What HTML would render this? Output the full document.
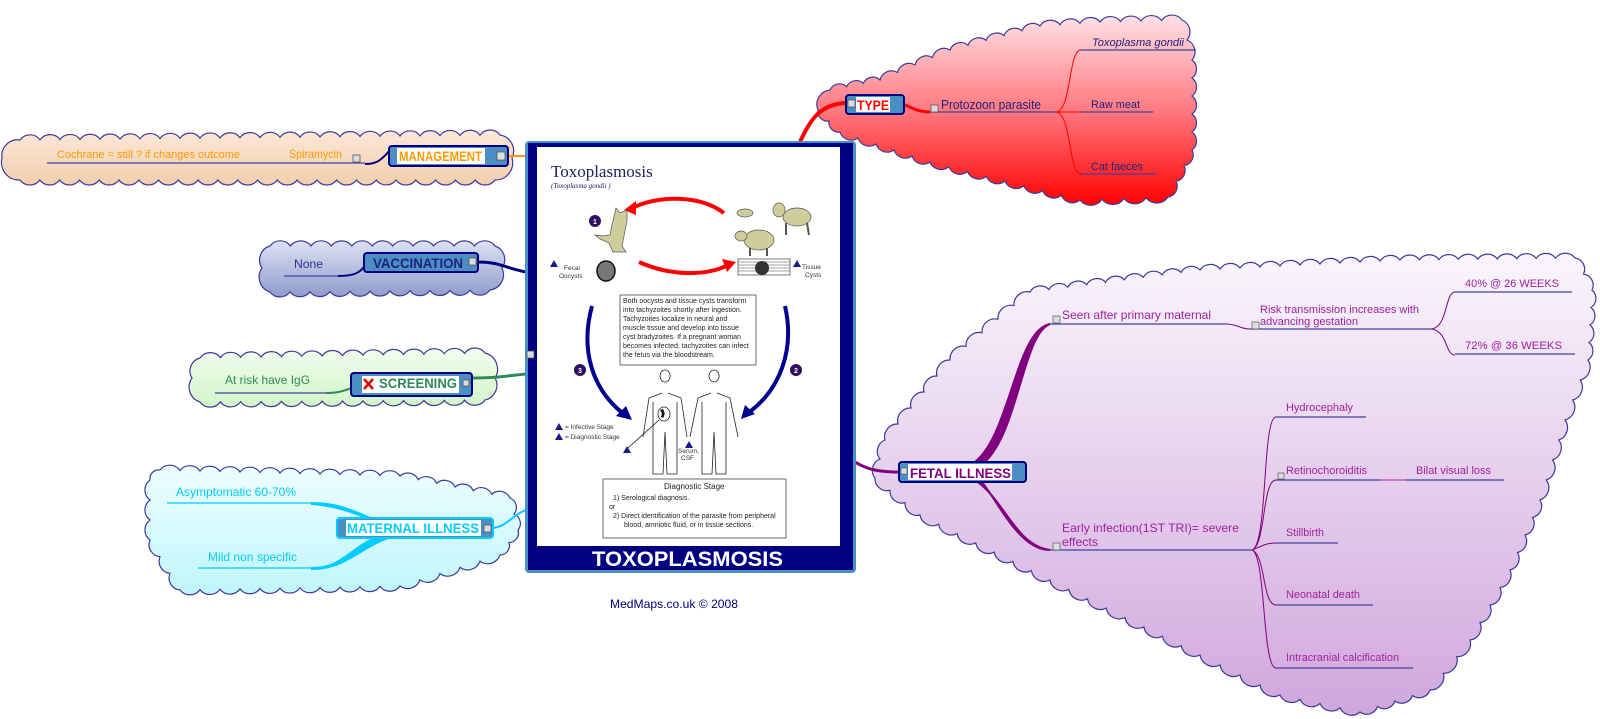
<!DOCTYPE html>
<html><head><meta charset="utf-8"><style>
html,body{margin:0;padding:0;background:#fff;}
svg{display:block;font-family:"Liberation Sans",sans-serif;}
</style></head><body>
<svg id="s" width="1600" height="719" viewBox="0 0 1600 719" xmlns="http://www.w3.org/2000/svg">
<defs>
<linearGradient id="gM" x1="0" y1="0" x2="0" y2="1"><stop offset="0" stop-color="#fbe8d8"/><stop offset="1" stop-color="#f2cfae"/></linearGradient>
<linearGradient id="gV" x1="0" y1="0" x2="0" y2="1"><stop offset="0" stop-color="#dde2f2"/><stop offset="1" stop-color="#8f9ccb"/></linearGradient>
<linearGradient id="gS" x1="0" y1="0" x2="0" y2="1"><stop offset="0" stop-color="#f2fdee"/><stop offset="1" stop-color="#d2f5c8"/></linearGradient>
<linearGradient id="gMa" x1="0" y1="0" x2="0" y2="1"><stop offset="0" stop-color="#eefeff"/><stop offset="1" stop-color="#bff6fc"/></linearGradient>
<linearGradient id="gT" x1="0" y1="0" x2="0" y2="1"><stop offset="0" stop-color="#ffe2e6"/><stop offset="0.5" stop-color="#ff7a80"/><stop offset="1" stop-color="#ff0000"/></linearGradient>
<linearGradient id="gF" x1="0" y1="0" x2="0" y2="1"><stop offset="0" stop-color="#faf6fc"/><stop offset="1" stop-color="#d0a6dc"/></linearGradient>
</defs>
<g id="clouds"></g>

<!-- connectors to centre -->
<path d="M508,156 C515,156 518,156 526,156" stroke="#ff9900" stroke-width="2" fill="none"/>
<path d="M478,262 C500,262 505,268 526,272" stroke="#000080" stroke-width="3" fill="none"/>
<path d="M472,378 C498,378 505,376 526,374" stroke="#2e8b57" stroke-width="3" fill="none"/>
<path d="M493,528 C508,526 512,515 526,510" stroke="#00ccff" stroke-width="2" fill="none"/>
<path d="M800,142 C810,120 820,104 846,103" stroke="#ff0000" stroke-width="4" fill="none"/>
<path d="M855,462 C868,470 880,472 899,472" stroke="#800080" stroke-width="3" fill="none"/>

<!-- MANAGEMENT -->
<line x1="47" y1="163" x2="365" y2="163" stroke="#4040a0" stroke-width="1.2"/>
<path d="M365,164 C375,164 380,162 390,150" stroke="#000080" stroke-width="2" fill="none"/>
<text x="57" y="158" font-size="11" fill="#ff9900" textLength="183" lengthAdjust="spacingAndGlyphs">Cochrane = still ? if changes outcome</text>
<text x="289" y="158" font-size="12" fill="#ff9900" textLength="53" lengthAdjust="spacingAndGlyphs">Spiramycin</text>
<rect x="353" y="155" width="7" height="7" fill="#ddd" stroke="#555" stroke-width="0.8"/>
<rect x="389" y="146" width="119" height="20" rx="3" fill="#4a8ec4" stroke="#000080" stroke-width="2"/>
<rect x="397" y="148" width="88" height="16" fill="#fff"/>
<text x="399" y="161" font-size="14" font-weight="bold" fill="#ff9900" textLength="83" lengthAdjust="spacingAndGlyphs">MANAGEMENT</text>
<rect x="497" y="152" width="8" height="8" fill="#ddd" stroke="#555" stroke-width="0.8"/>

<!-- VACCINATION -->
<line x1="284" y1="276" x2="338" y2="276" stroke="#4040a0" stroke-width="1.2"/>
<path d="M338,276 C352,276 360,274 366,264" stroke="#000080" stroke-width="2" fill="none"/>
<text x="294" y="268" font-size="12" fill="#303090" textLength="29" lengthAdjust="spacingAndGlyphs">None</text>
<rect x="364" y="253" width="114" height="19" rx="3" fill="#4a8ec4" stroke="#000080" stroke-width="2"/>
<text x="373" y="268" font-size="14" font-weight="bold" fill="#202080" textLength="90" lengthAdjust="spacingAndGlyphs">VACCINATION</text>
<rect x="469" y="258" width="7" height="7" fill="#ddd" stroke="#555" stroke-width="0.8"/>

<!-- SCREENING -->
<line x1="215" y1="393" x2="326" y2="393" stroke="#4040a0" stroke-width="1.2"/>
<path d="M326,393 C340,393 345,390 352,388" stroke="#2e8b57" stroke-width="2" fill="none"/>
<text x="225" y="384" font-size="12" fill="#2e8b57" textLength="85" lengthAdjust="spacingAndGlyphs">At risk have IgG</text>
<rect x="351" y="373" width="121" height="23" rx="3" fill="#4a8ec4" stroke="#000080" stroke-width="2"/>
<rect x="362" y="376" width="97" height="17" fill="#fff"/>
<path d="M364,379 L373,389 M373,379 L364,389" stroke="#e00000" stroke-width="2.5"/>
<text x="379" y="388" font-size="14" font-weight="bold" fill="#2e8b57" textLength="78" lengthAdjust="spacingAndGlyphs">SCREENING</text>
<rect x="463" y="380" width="6" height="6" fill="#ddd" stroke="#555" stroke-width="0.8"/>

<!-- MATERNAL -->
<line x1="167" y1="503" x2="312" y2="503" stroke="#00ccff" stroke-width="1.2"/>
<line x1="198" y1="568" x2="312" y2="568" stroke="#00ccff" stroke-width="1.2"/>
<path d="M312,503 C340,503 355,512 380,522 L385,526 C360,515 340,506 312,504 Z" fill="#00ccff" stroke="#00ccff" stroke-width="2"/>
<path d="M312,568 C345,568 350,545 385,534 L388,538 C360,548 345,569 312,569 Z" fill="#00ccff" stroke="#00ccff" stroke-width="2"/>
<text x="176" y="496" font-size="12" fill="#00ccff" textLength="120" lengthAdjust="spacingAndGlyphs">Asymptomatic 60-70%</text>
<text x="208" y="561" font-size="12" fill="#00ccff" textLength="89" lengthAdjust="spacingAndGlyphs">Mild non specific</text>
<rect x="337" y="518" width="156" height="20" rx="3" fill="#4a8ec4" stroke="#00ccff" stroke-width="2"/>
<rect x="346" y="520" width="135" height="16" fill="#fff"/>
<text x="347" y="533" font-size="14" font-weight="bold" fill="#00ccff" textLength="132" lengthAdjust="spacingAndGlyphs">MATERNAL ILLNESS</text>
<rect x="484" y="525" width="7" height="7" fill="#ddd" stroke="#555" stroke-width="0.8"/>

<!-- TYPE -->
<path d="M903,104 C912,108 918,112 930,112" stroke="#ff0000" stroke-width="3" fill="none"/>
<line x1="930" y1="112" x2="1056" y2="112" stroke="#4040a0" stroke-width="1.2"/>
<path d="M1056,112 C1072,110 1068,50 1081,50 M1056,112 L1081,112 M1056,112 C1072,114 1068,174 1081,174" stroke="#ff0000" stroke-width="1" fill="none"/>
<line x1="1081" y1="50" x2="1196" y2="50" stroke="#4040a0" stroke-width="1.2"/>
<line x1="1081" y1="112" x2="1153" y2="112" stroke="#4040a0" stroke-width="1.2"/>
<line x1="1081" y1="174" x2="1156" y2="174" stroke="#4040a0" stroke-width="1.2"/>
<rect x="846" y="95" width="58" height="19" rx="3" fill="#4a8ec4" stroke="#000080" stroke-width="2"/>
<rect x="856" y="97" width="34" height="15" fill="#fff"/>
<text x="857" y="110" font-size="14" font-weight="bold" fill="#ff0000" textLength="32" lengthAdjust="spacingAndGlyphs">TYPE</text>
<rect x="848" y="100" width="7" height="7" fill="#ddd" stroke="#555" stroke-width="0.8"/>
<rect x="931" y="105" width="7" height="7" fill="#ddd" stroke="#555" stroke-width="0.8"/>
<text x="941" y="109" font-size="13" fill="#202080" textLength="100" lengthAdjust="spacingAndGlyphs">Protozoon parasite</text>
<text x="1092" y="46" font-size="11" font-style="italic" fill="#202080" textLength="92" lengthAdjust="spacingAndGlyphs">Toxoplasma gondii</text>
<text x="1091" y="108" font-size="11" fill="#202080" textLength="49" lengthAdjust="spacingAndGlyphs">Raw meat</text>
<text x="1091" y="170" font-size="11" fill="#202080" textLength="52" lengthAdjust="spacingAndGlyphs">Cat faeces</text>

<!-- FETAL -->
<path d="M972,464 C1010,440 1015,330 1050,324 C1022,334 1018,440 980,466 Z" fill="#800080" stroke="#800080" stroke-width="2"/>
<path d="M975,480 C1005,500 1015,545 1050,550 C1020,550 1000,505 982,482 Z" fill="#800080" stroke="#800080" stroke-width="2"/>
<line x1="1050" y1="324" x2="1225" y2="324" stroke="#4040a0" stroke-width="1.2"/>
<path d="M1225,324 C1238,324 1240,329 1250,329" stroke="#800080" stroke-width="1" fill="none"/>
<line x1="1250" y1="329" x2="1432" y2="329" stroke="#4040a0" stroke-width="1.2"/>
<path d="M1432,329 C1448,326 1445,292 1455,292 M1432,329 C1448,332 1445,355 1455,355" stroke="#800080" stroke-width="1" fill="none"/>
<line x1="1455" y1="292" x2="1572" y2="292" stroke="#4040a0" stroke-width="1.2"/>
<line x1="1455" y1="354" x2="1575" y2="354" stroke="#4040a0" stroke-width="1.2"/>
<line x1="1050" y1="550" x2="1252" y2="550" stroke="#4040a0" stroke-width="1.2"/>
<path d="M1252,550 C1268,545 1262,417 1276,417 M1252,550 C1266,545 1262,480 1276,480 M1252,550 C1262,546 1266,543 1276,543 M1252,550 C1266,555 1262,605 1276,605 M1252,550 C1266,555 1262,668 1276,668" stroke="#800080" stroke-width="1" fill="none"/>
<line x1="1276" y1="417" x2="1366" y2="417" stroke="#4040a0" stroke-width="1.2"/>
<line x1="1276" y1="480" x2="1381" y2="480" stroke="#4040a0" stroke-width="1.2"/>
<line x1="1381" y1="480" x2="1406" y2="480" stroke="#c040c0" stroke-width="1.2"/>
<line x1="1406" y1="480" x2="1504" y2="480" stroke="#4040a0" stroke-width="1.2"/>
<line x1="1276" y1="543" x2="1338" y2="543" stroke="#4040a0" stroke-width="1.2"/>
<line x1="1276" y1="605" x2="1373" y2="605" stroke="#4040a0" stroke-width="1.2"/>
<line x1="1276" y1="668" x2="1413" y2="668" stroke="#4040a0" stroke-width="1.2"/>
<rect x="899" y="462" width="127" height="20" rx="3" fill="#4a8ec4" stroke="#000080" stroke-width="2"/>
<rect x="908" y="464" width="104" height="16" fill="#fff"/>
<text x="910" y="478" font-size="14" font-weight="bold" fill="#800080" textLength="101" lengthAdjust="spacingAndGlyphs">FETAL ILLNESS</text>
<rect x="901" y="468" width="6" height="6" fill="#ddd" stroke="#555" stroke-width="0.6"/>
<g font-size="12" fill="#a020a0">
<text x="1062" y="319" textLength="149" lengthAdjust="spacingAndGlyphs">Seen after primary maternal</text>
<text x="1260" y="313" font-size="11" textLength="159" lengthAdjust="spacingAndGlyphs">Risk transmission increases with</text>
<text x="1260" y="325" font-size="11" textLength="98" lengthAdjust="spacingAndGlyphs">advancing gestation</text>
<text x="1465" y="287" font-size="11" textLength="94" lengthAdjust="spacingAndGlyphs">40% @ 26 WEEKS</text>
<text x="1465" y="349" font-size="11" textLength="97" lengthAdjust="spacingAndGlyphs">72% @ 36  WEEKS</text>
<text x="1062" y="532" textLength="177" lengthAdjust="spacingAndGlyphs">Early infection(1ST TRI)= severe</text>
<text x="1062" y="546" textLength="36" lengthAdjust="spacingAndGlyphs">effects</text>
<text x="1286" y="411" font-size="11" textLength="67" lengthAdjust="spacingAndGlyphs">Hydrocephaly</text>
<text x="1286" y="474" font-size="11" textLength="81" lengthAdjust="spacingAndGlyphs">Retinochoroiditis</text>
<text x="1416" y="474" font-size="11" textLength="75" lengthAdjust="spacingAndGlyphs">Bilat visual loss</text>
<text x="1286" y="536" font-size="11" textLength="38" lengthAdjust="spacingAndGlyphs">Stillbirth</text>
<text x="1286" y="598" font-size="11" textLength="74" lengthAdjust="spacingAndGlyphs">Neonatal death</text>
<text x="1286" y="661" font-size="11" textLength="113" lengthAdjust="spacingAndGlyphs">Intracranial calcification</text>
</g>
<g fill="#ddd" stroke="#555" stroke-width="0.7">
<rect x="1053" y="316" width="7" height="7"/><rect x="1252" y="322" width="7" height="7"/>
<rect x="1053" y="543" width="7" height="7"/><rect x="1278" y="473" width="6" height="6"/>
</g>

<!-- CENTRAL FRAME -->
<rect x="525" y="141" width="331" height="432" rx="4" fill="#4a90c8"/>
<rect x="528" y="143" width="325" height="427" fill="#000080"/>
<rect x="537" y="147" width="303" height="399" fill="#fff"/>
<text x="592" y="566" font-size="21" font-weight="bold" fill="#fff" textLength="191" lengthAdjust="spacingAndGlyphs">TOXOPLASMOSIS</text>
<rect x="527" y="351" width="7" height="7" fill="#ddd" stroke="#555" stroke-width="0.8"/>

<text x="551" y="177" font-family="Liberation Serif,serif" font-size="17" fill="#202060">Toxoplasmosis</text>
<text x="551" y="188" font-family="Liberation Serif,serif" font-size="7" font-style="italic" fill="#202060">(Toxoplasma gondii )</text>
<path d="M724,213 C700,195 660,195 632,208" stroke="#ff0000" stroke-width="4" fill="none"/>
<path d="M624,210 L636,201 L636,215 Z" fill="#ff0000"/>
<path d="M639,262 C670,276 705,276 726,266" stroke="#ff0000" stroke-width="4" fill="none"/>
<path d="M736,262 L722,259 L727,272 Z" fill="#ff0000"/>
<path d="M592,306 C580,350 592,390 625,415" stroke="#000090" stroke-width="4" fill="none"/>
<path d="M632,420 L616,416 L626,406 Z" fill="#000090"/>
<path d="M785,306 C795,350 780,390 748,413" stroke="#000090" stroke-width="4" fill="none"/>
<path d="M741,419 L745,405 L755,414 Z" fill="#000090"/>
<g fill="#cfcd9b" stroke="#555" stroke-width="0.7">
<path d="M616,208 L620,213 L627,210 L627,221 L622,246 L626,252 L613,252 L609,243 L600,239 L595,235 L603,236 L610,235 L612,225 Z"/>
<ellipse cx="797" cy="217" rx="14" ry="9"/><ellipse cx="779" cy="210" rx="6" ry="7"/>
<path d="M786,223 L786,235 M807,223 L809,235" stroke="#555" stroke-width="2"/>
<ellipse cx="759" cy="240" rx="15" ry="10"/><ellipse cx="741" cy="236" rx="6" ry="5"/>
<path d="M750,248 L750,256 M767,248 L767,256" stroke="#555" stroke-width="2"/>
<ellipse cx="745" cy="213" rx="8" ry="4"/>
</g>
<ellipse cx="606" cy="271" rx="9" ry="10" fill="#777" stroke="#111" stroke-width="1.5"/>
<rect x="738" y="259" width="52" height="16" fill="none" stroke="#222" stroke-width="0.6"/>
<path d="M738,262 H790 M738,265 H790 M738,268 H790 M738,271 H790" stroke="#444" stroke-width="0.6"/>
<circle cx="762" cy="268" r="7" fill="#333"/>
<g font-size="6.5" fill="#333">
<text x="564" y="270">Fecal</text><text x="559" y="278">Oocysts</text>
<text x="802" y="269">Tissue</text><text x="805" y="277">Cysts</text>
<text x="565" y="429">= Infective Stage</text><text x="565" y="439">= Diagnostic Stage</text>
<text x="678" y="453">Serum,</text><text x="681" y="460">CSF</text>
</g>
<g fill="#1a1a8c"><path d="M550,267 L554,260 L558,267 Z"/><path d="M793,267 L797,260 L801,267 Z"/>
<path d="M555,430 L559,423 L563,430 Z"/><path d="M555,440 L559,433 L563,440 Z"/>
<path d="M623,453 L627,446 L631,453 Z"/><path d="M685,448 L689,441 L693,448 Z"/>
<path d="M648,490 L652,483 L656,490 Z"/></g>
<g fill="#301060"><circle cx="595" cy="221" r="6"/><circle cx="580" cy="370" r="6"/><circle cx="796" cy="370" r="6"/></g>
<g fill="#fff" font-size="7" font-weight="bold" text-anchor="middle"><text x="595" y="224">1</text><text x="580" y="373">3</text><text x="796" y="373">2</text></g>
<g fill="none" stroke="#222" stroke-width="0.8">
<path d="M665,382 a5,6 0 1 1 0.1,0 M662,393 L649,398 L643,437 M668,393 L681,398 L687,437 M653,402 L653,474 L663,474 L665,432 L667,474 L677,474 L677,402"/>
<path d="M714,382 a5,6 0 1 1 0.1,0 M711,393 L698,398 L690,437 M717,393 L730,398 L738,437 M702,402 L702,474 L712,474 L714,432 L716,474 L726,474 L726,402"/>
<ellipse cx="664" cy="414" rx="6" ry="7"/><path d="M659,420 L628,448"/>
</g>
<path d="M663,409 q3,5 0,9 l-2,-1 q2,-4 -1,-7 Z" fill="#111"/>
<rect x="620" y="295" width="136" height="70" fill="#fff" stroke="#444" stroke-width="0.8"/>
<g font-size="7" fill="#222">
<text x="623" y="303">Both oocysts and tissue cysts transform</text>
<text x="623" y="312">into tachyzoites shortly after ingestion.</text>
<text x="623" y="321">Tachyzoites localize in neural and</text>
<text x="623" y="330">muscle tissue and develop into tissue</text>
<text x="623" y="339">cyst bradyzoites. If a pregnant woman</text>
<text x="623" y="348">becomes infected, tachyzoites can infect</text>
<text x="623" y="357">the fetus via the bloodstream.</text>
</g>
<rect x="603" y="479" width="183" height="59" fill="#fff" stroke="#444" stroke-width="0.8"/>
<g font-size="7" fill="#222">
<text x="664" y="489" font-size="8">Diagnostic Stage</text>
<text x="613" y="500">1) Serological diagnosis.</text>
<text x="609" y="509">or</text>
<text x="613" y="518">2) Direct identification of the parasite from peripheral</text>
<text x="624" y="527">blood, amniotic fluid, or in tissue sections.</text>
</g>

<text x="610" y="608" font-size="12" fill="#000080" textLength="128" lengthAdjust="spacingAndGlyphs">MedMaps.co.uk © 2008</text>
</svg>
<script>
(function(){
var C=[
 ["gM",[[20,140],[500,135],[512,158],[495,180],[20,180],[2,158]]],
 ["gV",[[270,246],[495,246],[502,268],[490,290],[270,292],[262,268]]],
 ["gS",[[200,358],[485,353],[495,378],[485,400],[200,402],[192,378]]],
 ["gMa",[[160,470],[400,476],[510,498],[518,530],[500,555],[400,586],[180,590],[150,540],[150,480]]],
 ["gT",[[1100,22],[1182,20],[1192,60],[1192,150],[1168,197],[1080,200],[930,162],[840,132],[818,110],[830,90],[880,80],[950,50],[1040,26]]],
 ["gF",[[1030,292],[1200,270],[1400,260],[1575,258],[1592,290],[1588,360],[1565,420],[1540,500],[1510,570],[1470,640],[1430,690],[1360,712],[1280,695],[1200,655],[1050,580],[920,515],[875,478],[885,440],[950,360]]]
];
var g=document.getElementById("clouds"),ns="http://www.w3.org/2000/svg";
C.forEach(function(c){
 var p=c[1],d="M"+p[0][0]+","+p[0][1];
 for(var i=0;i<p.length;i++){
  var a=p[i],b=p[(i+1)%p.length],dx=b[0]-a[0],dy=b[1]-a[1],L=Math.sqrt(dx*dx+dy*dy),n=Math.max(1,Math.round(L/20));
  for(var k=1;k<=n;k++){var x=a[0]+dx*k/n,y=a[1]+dy*k/n,r=(L/n)*0.62;d+=" A"+r.toFixed(1)+","+r.toFixed(1)+" 0 0 1 "+x.toFixed(1)+","+y.toFixed(1);}
 }
 var e=document.createElementNS(ns,"path");e.setAttribute("d",d+"Z");e.setAttribute("fill","url(#"+c[0]+")");
 e.setAttribute("stroke","#3a3a9a");e.setAttribute("stroke-width","1.2");g.appendChild(e);
});
})();
</script>
</body></html>
